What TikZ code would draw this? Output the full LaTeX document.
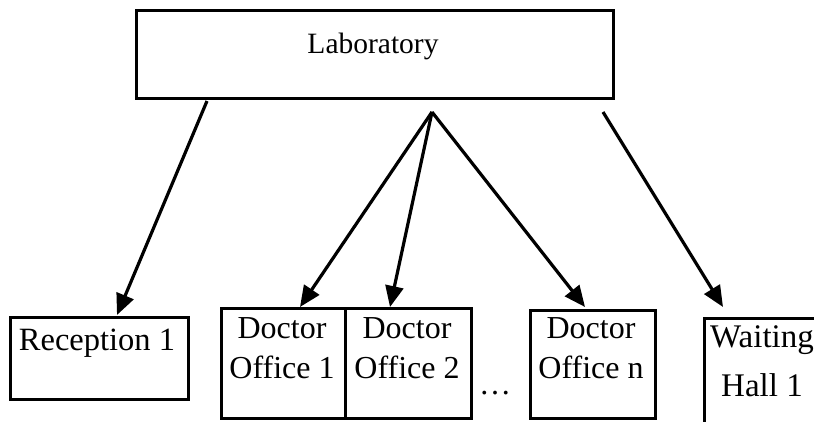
\documentclass[tikz,border=0pt]{standalone}
\usepackage{fontspec}
\setmainfont{Liberation Serif}
\usetikzlibrary{arrows.meta}
\begin{document}
\begin{tikzpicture}[x=1pt,y=-1pt,
  room/.style={draw=black,line width=2.8pt,inner sep=0pt,anchor=north west},
  lbl/.style={inner sep=0pt,anchor=base,align=center},
  flow/.style={line width=3.2pt,-{Triangle[length=21pt,width=18pt]}}]
\useasboundingbox (0,0) rectangle (814,421);
\begin{scope}
\clip (0,0) rectangle (814,421);
% rooms
\node[room,minimum width=477pt,minimum height=88pt] (lab) at (135,9) {};
\node[room,minimum width=178pt,minimum height=82pt] (rec) at (9,316) {};
\node[room,minimum width=124pt,minimum height=110pt] (doc1) at (220,307) {};
\node[room,minimum width=126pt,minimum height=110pt] (doc2) at (344,307) {};
\node[room,minimum width=125pt,minimum height=108pt] (docn) at (529,309) {};
\node[room,minimum width=125pt,minimum height=130pt] (wait) at (703,317) {};
% labels
\node[lbl,font=\fontsize{29.5}{34}\selectfont] (labtxt) at (373,53) {Laboratory};
\node[lbl,font=\fontsize{32.5}{40}\selectfont] (rectxt) at (97,350) {Reception 1};
\node[lbl,font=\fontsize{32}{40}\selectfont] (doc1a) at (282,338) {Doctor};
\node[lbl,font=\fontsize{32}{40}\selectfont] (doc1b) at (282,378) {Office 1};
\node[lbl,font=\fontsize{32}{40}\selectfont] (doc2a) at (407,338) {Doctor};
\node[lbl,font=\fontsize{32}{40}\selectfont] (doc2b) at (407,378) {Office 2};
\node[lbl,font=\fontsize{32}{40}\selectfont] (docna) at (591,338) {Doctor};
\node[lbl,font=\fontsize{32}{40}\selectfont] (docnb) at (591,378) {Office n};
\node[lbl,font=\fontsize{33}{40}\selectfont] (waita) at (762,347) {Waiting};
\node[lbl,font=\fontsize{33}{40}\selectfont] (waitb) at (762,396) {Hall 1};
\node[lbl,font=\fontsize{32}{40}\selectfont] (dots) at (495,394) {\dots};
\end{scope}
% connector ends
\coordinate (recsrc) at (207,101);
\coordinate (hub) at (432,112);
\coordinate (waitsrc) at (603,112);
\coordinate (rectip) at (117,315);
\coordinate (doc1tip) at (300,307);
\coordinate (doc2tip) at (390,307);
\coordinate (docntip) at (585,307);
\coordinate (waittip) at (723,307);
% connectors
\draw[flow] (recsrc) -- (rectip);
\draw[flow] (hub) -- (doc1tip);
\draw[flow] (hub) -- (doc2tip);
\draw[flow] (hub) -- (docntip);
\draw[flow] (waitsrc) -- (waittip);
\end{tikzpicture}
\end{document}
